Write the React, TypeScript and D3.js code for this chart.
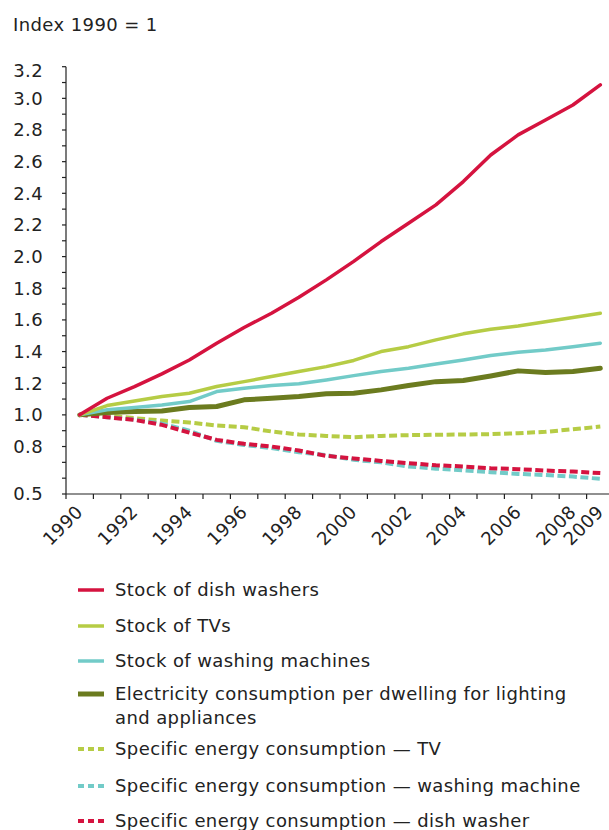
import React from "react";
import * as d3 from "d3";

const years = [1990, 1991, 1992, 1993, 1994, 1995, 1996, 1997, 1998, 1999, 2000, 2001, 2002, 2003, 2004, 2005, 2006, 2007, 2008, 2009];
const xLabelYears = [1990, 1992, 1994, 1996, 1998, 2000, 2002, 2004, 2006, 2008, 2009];

const dishWasherStock = [1.0, 1.105, 1.179, 1.259, 1.347, 1.453, 1.552, 1.642, 1.743, 1.853, 1.97, 2.095, 2.211, 2.327, 2.474, 2.642, 2.769, 2.863, 2.958, 3.085];
const tvStock = [1.0, 1.059, 1.088, 1.116, 1.137, 1.179, 1.21, 1.242, 1.274, 1.305, 1.344, 1.4, 1.431, 1.474, 1.512, 1.541, 1.562, 1.589, 1.615, 1.642];
const washingMachineStock = [1.0, 1.032, 1.046, 1.063, 1.084, 1.147, 1.168, 1.185, 1.196, 1.221, 1.248, 1.274, 1.295, 1.322, 1.347, 1.375, 1.396, 1.41, 1.431, 1.453];
const electricityPerDwelling = [1.0, 1.015, 1.021, 1.025, 1.046, 1.053, 1.095, 1.105, 1.116, 1.133, 1.137, 1.158, 1.185, 1.21, 1.217, 1.246, 1.278, 1.267, 1.274, 1.295];
const tvSpecific = [1.0, 0.996, 0.979, 0.964, 0.952, 0.933, 0.922, 0.895, 0.876, 0.867, 0.859, 0.867, 0.872, 0.874, 0.876, 0.878, 0.884, 0.893, 0.909, 0.926];
const washingMachineSpecific = [1.0, 0.985, 0.97, 0.945, 0.9, 0.836, 0.81, 0.79, 0.764, 0.745, 0.716, 0.7, 0.674, 0.66, 0.65, 0.638, 0.627, 0.62, 0.61, 0.596];
const dishWasherSpecific = [1.0, 0.985, 0.968, 0.937, 0.888, 0.842, 0.817, 0.8, 0.775, 0.741, 0.724, 0.709, 0.695, 0.682, 0.674, 0.663, 0.657, 0.648, 0.642, 0.632];

const yTickValues = [0.5, 0.6, 0.7, 0.8, 0.9, 1.0, 1.1, 1.2, 1.3, 1.4, 1.5, 1.6, 1.7, 1.8, 1.9, 2.0, 2.1, 2.2, 2.3, 2.4, 2.5, 2.6, 2.7, 2.8, 2.9, 3.0, 3.1, 3.2];
const yLabelValues = [0.5, 0.8, 1.0, 1.2, 1.4, 1.6, 1.8, 2.0, 2.2, 2.4, 2.6, 2.8, 3.0, 3.2];

const RED = "#d5133f";
const LGREEN = "#b6cc45";
const TEAL = "#72cbc8";
const OLIVE = "#6b7b1f";

type Series = { name: string[]; values: number[]; color: string; dashed: boolean; width: number };

const series: Series[] = [
  { name: ["Stock of dish washers"], values: dishWasherStock, color: RED, dashed: false, width: 3.5 },
  { name: ["Stock of TVs"], values: tvStock, color: LGREEN, dashed: false, width: 3.5 },
  { name: ["Stock of washing machines"], values: washingMachineStock, color: TEAL, dashed: false, width: 3.5 },
  { name: ["Electricity consumption per dwelling for lighting", "and appliances"], values: electricityPerDwelling, color: OLIVE, dashed: false, width: 5 },
  { name: ["Specific energy consumption \u2014 TV"], values: tvSpecific, color: LGREEN, dashed: true, width: 4 },
  { name: ["Specific energy consumption \u2014 washing machine"], values: washingMachineSpecific, color: TEAL, dashed: true, width: 4 },
  { name: ["Specific energy consumption \u2014 dish washer"], values: dishWasherSpecific, color: RED, dashed: true, width: 4 },
];

const drawOrder = [4, 5, 6, 3, 2, 1, 0];
const legendRowY = [590, 626, 661, 694, 749, 786, 821];

const FONT = "'DejaVu Sans', Verdana, sans-serif";

export default function App() {
  const W = 609;
  const H = 830;
  const axisX = 66;
  const x = d3.scaleBand<number>().domain(years).range([axisX, axisX + 27.4 * years.length]).padding(0);
  const y = d3.scaleLinear().domain([0.5, 3.2]).range([494, 66.7]);
  const cx = (yr: number) => (x(yr) as number) + x.bandwidth() / 2;
  const line = d3
    .line<number>()
    .x((_, i) => cx(years[i]))
    .y((v) => y(v));
  const y0 = y(0.5);

  return (
    <svg width={W} height={H} style={{ position: "absolute", left: 0, top: 0, background: "#fff" }} fontFamily={FONT}>
      <text x={13} y={31} fontSize={18} letterSpacing={0.4} fill="#222">Index 1990 = 1</text>

      {/* y axis */}
      <line x1={axisX} x2={axisX} y1={y(3.2)} y2={y0} stroke="#222" strokeWidth={1.2} />
      {yTickValues.map((t) => (
        <line key={"yt" + t} x1={axisX - 4} x2={axisX} y1={y(t)} y2={y(t)} stroke="#222" strokeWidth={1.2} />
      ))}
      {yLabelValues.map((t) => (
        <text key={"yl" + t} x={43} y={y(t) + (t === 3.2 ? 4 : 0)} dy="0.35em" textAnchor="end" fontSize={18} letterSpacing={0.4} fill="#222">
          {t.toFixed(1)}
        </text>
      ))}

      {/* x axis */}
      <line x1={axisX} x2={W} y1={y0} y2={y0} stroke="#222" strokeWidth={1.2} />
      {years.map((yr) => (
        <line key={"xt" + yr} x1={x(yr) as number} x2={x(yr) as number} y1={y0} y2={y0 + 5} stroke="#222" strokeWidth={1.2} />
      ))}
      {xLabelYears.map((yr) => (
        <text
          key={"xl" + yr}
          transform={`translate(${(x(yr) as number) + 18},${y0 + 19}) rotate(-45)`}
          textAnchor="end"
          fontSize={18}
          letterSpacing={0.4}
          fill="#222"
        >
          {yr}
        </text>
      ))}

      {/* series */}
      {drawOrder.map((i) => {
        const s = series[i];
        return (
          <path
            key={"s" + i}
            d={line(s.values) || ""}
            fill="none"
            stroke={s.color}
            strokeWidth={s.width}
            strokeDasharray={s.dashed ? "8,3.5" : undefined}
            strokeLinejoin="round"
            strokeLinecap={s.dashed ? "butt" : "round"}
          />
        );
      })}

      {/* legend */}
      {series.map((s, i) => {
        const ly = legendRowY[i];
        return (
          <g key={"lg" + i}>
            <line
              x1={78}
              x2={104}
              y1={ly}
              y2={ly}
              stroke={s.color}
              strokeWidth={s.width}
              strokeDasharray={s.dashed ? "6,4" : undefined}
            />
            {s.name.map((n, j) => (
              <text key={j} x={115} y={ly + 24 * j} dy="0.35em" fontSize={18} letterSpacing={0.4} fill="#222">
                {n}
              </text>
            ))}
          </g>
        );
      })}
    </svg>
  );
}
